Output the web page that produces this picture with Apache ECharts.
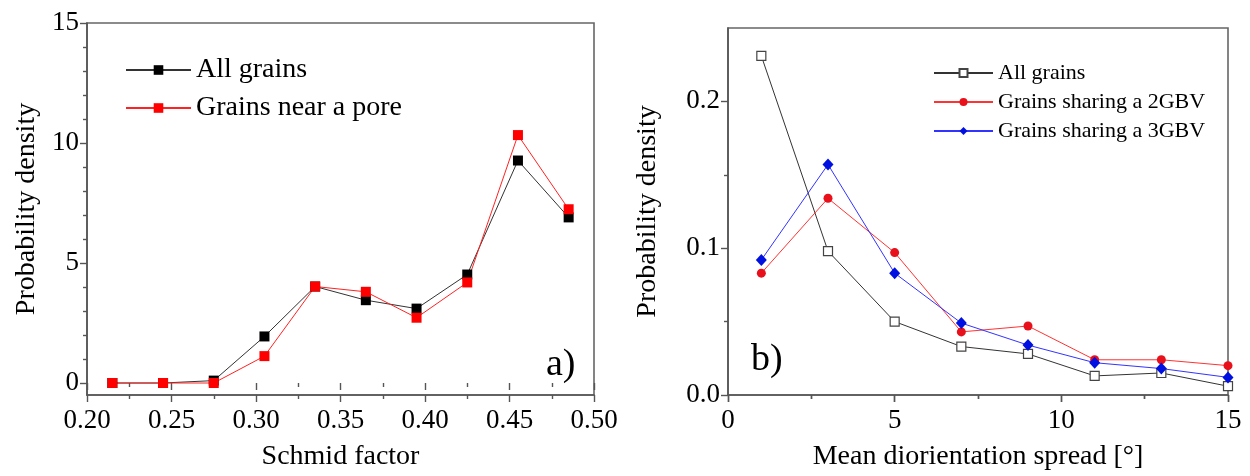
<!DOCTYPE html>
<html><head><meta charset="utf-8">
<script src="https://cdn.jsdelivr.net/npm/echarts@6/dist/echarts.min.js"></script>
<style>html,body{margin:0;padding:0;background:#fff}#c{width:1250px;height:476px}</style>
</head><body><div id="c"></div>
<script>
// ---- Data (panel a) ----
const schmidX = [0.215, 0.245, 0.275, 0.305, 0.335, 0.365, 0.395, 0.425, 0.455, 0.485];
const allGrainsA = [0, 0, 0.1, 1.94, 4.02, 3.45, 3.1, 4.52, 9.27, 6.9];
const nearPoreA = [0, 0, 0, 1.12, 4.02, 3.8, 2.72, 4.19, 10.33, 7.24];
// ---- Data (panel b) ----
const spreadX = [1, 3, 5, 7, 9, 11, 13, 15];
const allGrainsB = [0.231, 0.098, 0.050, 0.033, 0.028, 0.013, 0.015, 0.006];
const gbv2B = [0.083, 0.134, 0.097, 0.043, 0.047, 0.024, 0.024, 0.020];
const gbv3B = [0.092, 0.157, 0.083, 0.049, 0.034, 0.022, 0.018, 0.012];
// ---- Ticks ----
const yTicksA = [0, 5, 10, 15];
const yMinorA = [1, 2, 3, 4, 6, 7, 8, 9, 11, 12, 13, 14];
const yTicksB = [0, 0.1, 0.2];
const yMinorB = [0.05, 0.15];
// ---- Names ----
const namesA = ['All grains', 'Grains near a pore'];
const namesB = ['All grains (b)', 'Grains sharing a 2GBV', 'Grains sharing a 3GBV'];

const FONT = '"Liberation Serif", "Times New Roman", serif';
const AX = '#555';
const pairs = (xs, ys) => xs.map((x, i) => [x, ys[i]]);
const txt = {fontFamily: FONT, fontSize: 27, color: '#000'};

function bottomX(grid, min, max, interval, fmt, name) {
  return {
    type: 'value', gridIndex: grid, position: 'bottom', min, max, interval,
    name, nameLocation: 'middle', nameGap: 48,
    nameTextStyle: {fontFamily: FONT, fontSize: 28, color: '#000'},
    axisLine: {show: true, onZero: false, lineStyle: {color: AX, width: 1.6}},
    axisTick: {show: true, inside: false, length: 7, lineStyle: {color: AX, width: 1.4}},
    minorTick: {show: true, splitNumber: 2, length: 4, lineStyle: {color: AX, width: 1.4}},
    axisLabel: Object.assign({margin: 12, formatter: fmt}, txt),
    splitLine: {show: false}
  };
}
function topX(grid, min, max, interval) {
  return {
    type: 'value', gridIndex: grid, position: 'top', min, max, interval,
    axisLine: {show: false},
    axisTick: {show: true, inside: true, length: 7, lineStyle: {color: AX, width: 1.4}},
    minorTick: {show: true, splitNumber: 2, length: 4, lineStyle: {color: AX, width: 1.4}},
    axisLabel: {show: false}, splitLine: {show: false}
  };
}
function leftY(grid, min, max, ticks, fmt, name, gap) {
  return {
    type: 'value', gridIndex: grid, position: 'left', min, max,
    name, nameLocation: 'middle', nameGap: gap,
    nameTextStyle: {fontFamily: FONT, fontSize: 28, color: '#000'},
    axisLine: {show: true, onZero: false, lineStyle: {color: AX, width: 1.6}},
    axisTick: {show: true, inside: false, length: 7, customValues: ticks, lineStyle: {color: AX, width: 1.4}},
    axisLabel: Object.assign({margin: 8, customValues: ticks, formatter: fmt}, txt),
    splitLine: {show: false}
  };
}
function minorY(grid, min, max, ticks) {
  return {
    type: 'value', gridIndex: grid, position: 'left', min, max,
    axisLine: {show: false},
    axisTick: {show: true, inside: false, length: 4, customValues: ticks, lineStyle: {color: AX, width: 1.4}},
    axisLabel: {show: false}, splitLine: {show: false}
  };
}

const option = {
  animation: false,
  backgroundColor: '#fff',
  textStyle: {fontFamily: FONT},
  grid: [
    {left: 87, top: 23, width: 507, height: 376, show: true, borderColor: '#666', borderWidth: 1.6, backgroundColor: 'transparent'},
    {left: 728, top: 28, width: 500, height: 372, show: true, borderColor: '#666', borderWidth: 1.6, backgroundColor: 'transparent'}
  ],
  xAxis: [
    bottomX(0, 0.2, 0.5, 0.05, v => v.toFixed(2), 'Schmid factor'),
    topX(0, 0.2, 0.5, 0.05),
    bottomX(1, 0, 15, 5, v => String(v), 'Mean diorientation spread [°]'),
    topX(1, 0, 15, 5)
  ],
  yAxis: [
    leftY(0, -0.5, 15, yTicksA, v => String(v), 'Probability density', 46),
    minorY(0, -0.5, 15, yMinorA),
    leftY(1, 0, 0.25, yTicksB, v => v.toFixed(1), 'Probability density', 66),
    minorY(1, 0, 0.25, yMinorB)
  ],
  legend: [
    {
      data: namesA, orient: 'vertical', left: 125, top: 56, padding: 0,
      itemWidth: 65, itemHeight: 12, itemGap: 10,
      textStyle: {fontFamily: FONT, fontSize: 28, color: '#000'}
    },
    {
      data: namesB, orient: 'vertical', left: 933, top: 62, padding: 0,
      itemWidth: 59, itemHeight: 10, itemGap: 7,
      formatter: n => n.replace(' (b)', ''),
      textStyle: {fontFamily: FONT, fontSize: 22, color: '#000'}
    }
  ],
  series: [
    {
      name: namesA[0], type: 'line', xAxisIndex: 0, yAxisIndex: 0,
      data: pairs(schmidX, allGrainsA), symbol: 'rect', symbolSize: 10, showAllSymbol: true,
      itemStyle: {color: '#000'}, lineStyle: {color: '#333', width: 1}
    },
    {
      name: namesA[1], type: 'line', xAxisIndex: 0, yAxisIndex: 0,
      data: pairs(schmidX, nearPoreA), symbol: 'rect', symbolSize: 10, showAllSymbol: true,
      itemStyle: {color: '#f00'}, lineStyle: {color: '#f22', width: 1}
    },
    {
      name: namesB[0], type: 'line', xAxisIndex: 2, yAxisIndex: 2,
      data: pairs(spreadX, allGrainsB), symbol: 'rect', symbolSize: 9, showAllSymbol: true,
      itemStyle: {color: '#fff', borderColor: '#444', borderWidth: 1.2}, lineStyle: {color: '#333', width: 1}
    },
    {
      name: namesB[1], type: 'line', xAxisIndex: 2, yAxisIndex: 2,
      data: pairs(spreadX, gbv2B), symbol: 'circle', symbolSize: 9, showAllSymbol: true,
      itemStyle: {color: '#e8101a'}, lineStyle: {color: '#f33', width: 1}
    },
    {
      name: namesB[2], type: 'line', xAxisIndex: 2, yAxisIndex: 2,
      data: pairs(spreadX, gbv3B), symbol: 'diamond', symbolSize: [11, 12], showAllSymbol: true,
      itemStyle: {color: '#0010e0'}, lineStyle: {color: '#33f', width: 1}
    }
  ],
  graphic: [
    {type: 'text', left: 546, top: 346, style: {text: 'a)', fontFamily: FONT, fontSize: 38, fill: '#000'}},
    {type: 'text', left: 751, top: 341, style: {text: 'b)', fontFamily: FONT, fontSize: 38, fill: '#000'}}
  ]
};
const chart = echarts.init(document.getElementById('c'), null, {renderer: 'canvas'});
chart.setOption(option);
</script></body></html>
